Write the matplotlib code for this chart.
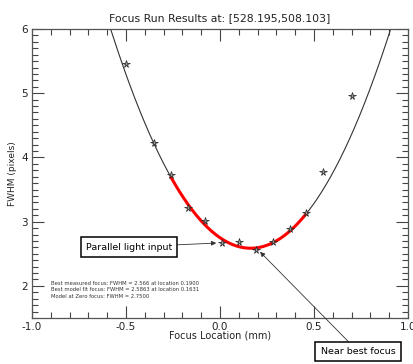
import numpy as np
import matplotlib
matplotlib.use("Agg")
import matplotlib.pyplot as plt
from matplotlib.ticker import MultipleLocator

# Measured focus points
focus_x = [-0.50, -0.35, -0.26, -0.17, -0.08, 0.01, 0.10, 0.19, 0.28, 0.37, 0.46, 0.55, 0.70]
fwhm_y = [5.46, 4.23, 3.72, 3.22, 3.01, 2.67, 2.69, 2.566, 2.69, 2.88, 3.13, 3.77, 4.95]

# Model fit parameters (from the chart text)
best_fit_x = 0.1631
best_fit_fwhm = 2.5863
zero_fwhm = 2.75
fit_range = (-0.26, 0.46)

info_lines = [
    "Best measured focus: FWHM = 2.566 at location 0.1900",
    "Best model fit focus: FWHM = 2.5863 at location 0.1631",
    "Model at Zero focus: FWHM = 2.7500",
]

fig = plt.figure(figsize=(4.13, 3.64), dpi=100)
ax = fig.add_axes([32/413, 46/364, 376/413, 289/364])

curv = (zero_fwhm - best_fit_fwhm) / best_fit_x**2
xm = np.linspace(-1, 1, 400)
ym = best_fit_fwhm + curv * (xm - best_fit_x)**2
ax.plot(xm, ym, color='#333333', lw=0.8, zorder=2)
xr = np.linspace(fit_range[0], fit_range[1], 200)
yr = best_fit_fwhm + curv * (xr - best_fit_x)**2
ax.plot(xr, yr, color='#ff0000', lw=2.2, zorder=3)

ax.plot(focus_x, fwhm_y, linestyle='none', marker='*', ms=5.5, mfc='#999999',
        mec='#222222', mew=0.5, zorder=4)

ax.set_xlim(-1, 1)
ax.set_ylim(1.5, 6)
ax.xaxis.set_major_locator(MultipleLocator(0.5))
ax.xaxis.set_minor_locator(MultipleLocator(0.1))
ax.yaxis.set_major_locator(MultipleLocator(1))
ax.yaxis.set_minor_locator(MultipleLocator(0.1))
ax.set_xticks([-1.0, -0.5, 0.0, 0.5, 1.0])
ax.set_xticklabels(['-1.0', '-0.5', '0.0', '0.5', '1.0'])
ax.set_yticks([2, 3, 4, 5, 6])
ax.set_yticklabels(['2', '3', '4', '5', '6'])
ax.tick_params(which='both', direction='in', top=True, right=True, colors='#444444',
               labelcolor='#222222', labelsize=7.5, width=0.8)
ax.tick_params(which='major', length=8.5, pad=3)
ax.tick_params(which='minor', length=4.3)
for s in ax.spines.values():
    s.set_color('#555555')
    s.set_linewidth(0.9)

ax.set_title("Focus Run Results at: [528.195,508.103]", fontsize=7.8, color='#222222', pad=6)
ax.set_xlabel("Focus Location (mm)", fontsize=7, color='#222222', labelpad=-1)
ax.set_ylabel("FWHM (pixels)", fontsize=6.5, color='#222222', labelpad=3)

for i, line in enumerate(info_lines):
    ax.text(-0.9, 2.04 - i*0.103, line, fontsize=3.8, color='#333333', va='center', ha='left')

bbox = dict(boxstyle='square,pad=0.55', fc='white', ec='black', lw=1.1)
ax.annotate("Parallel light input", xy=(-0.02, 2.667), xytext=(-0.484, 2.605),
            fontsize=6.8, ha='center', va='center', bbox=bbox,
            arrowprops=dict(arrowstyle='-|>', color='#333333', lw=0.6, mutation_scale=7,
                            shrinkA=0, shrinkB=0))
ax.annotate("Near best focus", xy=(0.213, 2.53), xytext=(0.734, 0.98),
            fontsize=6.8, ha='center', va='center', bbox=bbox, annotation_clip=False,
            arrowprops=dict(arrowstyle='-|>', color='#333333', lw=0.6, mutation_scale=7,
                            shrinkA=0, shrinkB=0))

fig.savefig("out.png", dpi=100)
